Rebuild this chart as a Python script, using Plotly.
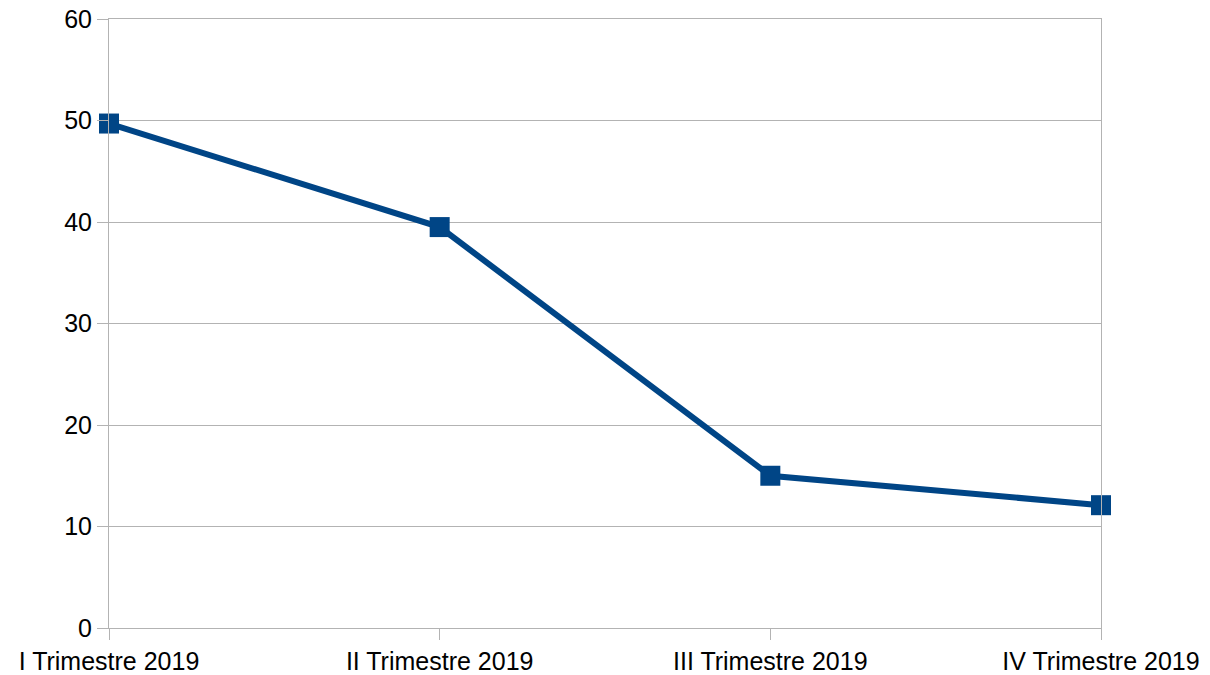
import plotly.graph_objects as go

trimestri = ["I Trimestre 2019", "II Trimestre 2019", "III Trimestre 2019", "IV Trimestre 2019"]
valori = [49.7, 39.5, 15.0, 12.1]

fig = go.Figure()

fig.add_trace(go.Scatter(
    x=trimestri,
    y=valori,
    mode="lines+markers",
    line=dict(color="#004586", width=6),
    marker=dict(symbol="square", size=20, color="#004586"),
    cliponaxis=False,
    showlegend=False
))

grigio = "#b3b3b3"

fig.update_layout(
    width=1210,
    height=675,
    margin=dict(l=109, r=109, t=19, b=47),
    paper_bgcolor="white",
    plot_bgcolor="white",
    font=dict(family="Liberation Sans, Arial, sans-serif", size=25, color="black"),
    xaxis=dict(
        type="category",
        range=[0, 3],
        automargin=False,
        ticklabeloverflow="allow",
        showgrid=False,
        showline=True, linecolor=grigio, linewidth=1, mirror=True,
        ticks="outside", ticklen=11, tickcolor=grigio, tickwidth=1,
        zeroline=False,
    ),
    yaxis=dict(
        range=[0, 60],
        dtick=10,
        automargin=False,
        ticklabeloverflow="allow",
        showgrid=True, gridcolor=grigio, gridwidth=1,
        showline=True, linecolor=grigio, linewidth=1, mirror=True,
        ticks="outside", ticklen=11, tickcolor=grigio, tickwidth=1,
        zeroline=False,
    ),
)

# togliere il margine di 8px del body così la figura parte da (0, 0)
fig.write_html(
    "out.html",
    config={"displayModeBar": False},
    post_script="document.body.style.margin='0';document.body.style.overflow='hidden';",
)
